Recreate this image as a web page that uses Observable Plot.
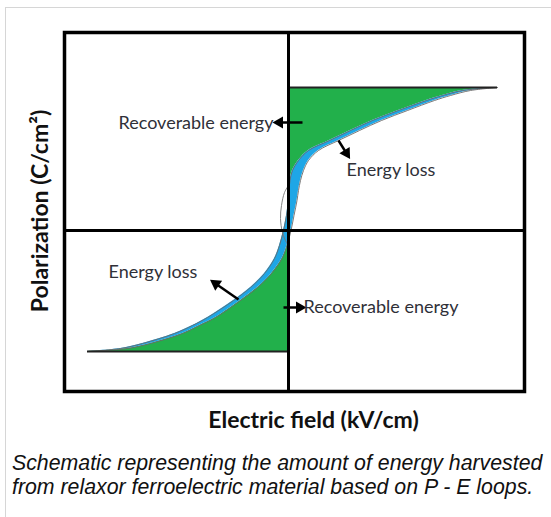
<!DOCTYPE html>
<html>
<head>
<meta charset="utf-8">
<script src="https://cdn.jsdelivr.net/npm/d3@7"></script>
<script src="https://cdn.jsdelivr.net/npm/@observablehq/plot@0.6"></script>
<style>
  html, body { margin: 0; padding: 0; background: #fff; }
  #wrap { position: relative; width: 551px; height: 517px; overflow: hidden; }
  #frameBox { position: absolute; left: 5px; top: 7px; width: 600px; height: 600px;
              border-left: 1px solid #d6d6d6; border-top: 1px solid #d6d6d6; }
  #chart { position: absolute; left: 0; top: 0; }
  #caption { position: absolute; left: 12px; top: 451px; width: 545px;
             font-family: "Liberation Sans", Arial, sans-serif; font-style: italic;
             font-size: 21.3px; line-height: 24px; color: #111; white-space: nowrap; }
</style>
</head>
<body>
<div id="wrap">
  <div id="frameBox"></div>
  <div id="chart"></div>
  <div id="caption"></div>
</div>
<script>
// Polarization values (arbitrary units), top to bottom
const polarization = [71.5, 70, 67.5, 65, 60, 55, 50, 45, 40, 35, 30, 25, 20, 15, 7.5, 0,
  -7.5, -14, -21.5, -28.5, -35, -43.5, -47.5, -51.5, -56.5, -59, -60.5];
// Left branch of the loop (discharge curve in the upper half)
const fieldLeft = [104.5, 87, 77, 69, 55, 42, 31, 20.5, 10, 5, 2, 0.75, 0.25, 0, -1, -2.5,
  -4.5, -7, -12, -19, -27.5, -40.5, -48, -57, -73, -84, -100.5];
// Right branch of the loop (charge curve in the upper half)
const fieldRight = [104.5, 91, 81, 73, 59.5, 46.5, 35.5, 25, 15, 10, 7.5, 6, 5, 4.25, 2.75, 1.25,
  -0.75, -3.25, -8.5, -15.5, -24, -36.5, -44.5, -53, -69, -80.5, -100.5];
// small minor loop around the origin
const loopField = [0, -2, -3.5, -4, -3, -1, 0.5];
const loopPol = [22.5, 19, 12.5, 6, -1, -6, -8];

const xLabel = "Electric field (kV/cm)";
const yLabel = "Polarization (C/cm²)";
const captionText = ["Schematic representing the amount of energy harvested",
  "from relaxor ferroelectric material based on P - E loops."];

// annotations: label text, anchor position (data units)
const labels = [
  {text: "Recoverable energy", x: -7.5, y: 53.5, anchor: "end"},
  {text: "Energy loss", x: 29, y: 30, anchor: "start"},
  {text: "Energy loss", x: -90, y: -21, anchor: "start"},
  {text: "Recoverable energy", x: 7.5, y: -38.5, anchor: "start"}
];
// arrows: tail (x1,y1) -> tip (x2,y2)
const arrows = [
  {x1: 7, y1: 54, x2: -6.5, y2: 54},
  {x1: 25, y1: 45, x2: 30, y2: 37},
  {x1: -25, y1: -34.5, x2: -38, y2: -25.5},
  {x1: -2.5, y1: -38.5, x2: 7.5, y2: -38.5}
];

const rows = polarization.map((p, i) => ({P: p, L: fieldLeft[i], R: fieldRight[i]}));
const loop = loopField.map((e, i) => ({E: e, P: loopPol[i]}));
const tipTop = rows[0], tipBottom = rows[rows.length - 1];
const tips = [
  {P: tipTop.P, x1: 0, x2: tipTop.L},
  {P: tipBottom.P, x1: tipBottom.L, x2: 0}
];
// arrow heads: centred a little behind the tip, rotated along the shaft
const heads = arrows.map(a => {
  const dx = a.x2 - a.x1, dy = a.y2 - a.y1, len = Math.hypot(dx, dy);
  const back = 2;
  return {x: a.x2 - dx / len * back, y: a.y2 - dy / len * back,
          angle: Math.atan2(dx, dy) * 180 / Math.PI};
});

const green = "#22b04b";
const blue = "#1ea6e6";
const ink = "#2f3038";
const font = "Lato, 'Open Sans', sans-serif";

const chart = Plot.plot({
  width: 551,
  height: 440,
  marginLeft: 64,
  marginRight: 27,
  marginTop: 32,
  marginBottom: 49,
  x: {domain: [-112, 118], axis: null},
  y: {domain: [-80.5, 99], axis: null},
  style: {fontFamily: font, background: "transparent"},
  marks: [
    Plot.areaX(rows.filter(d => d.P >= 15), {y: "P", x1: 0, x2: d => Math.max(0, d.L), fill: green, curve: "catmull-rom"}),
    Plot.areaX(rows.filter(d => d.P <= 0), {y: "P", x1: d => Math.min(0, d.R), x2: 0, fill: green, curve: "catmull-rom"}),
    Plot.areaX(rows, {y: "P", x1: "L", x2: "R", fill: blue, curve: "catmull-rom"}),
    Plot.line(rows, {x: "L", y: "P", curve: "catmull-rom", stroke: "#6a6a6a", strokeWidth: 0.9}),
    Plot.line(rows, {x: "R", y: "P", curve: "catmull-rom", stroke: "#6a6a6a", strokeWidth: 0.9}),
    Plot.line(loop, {x: "E", y: "P", curve: "catmull-rom", stroke: "#777", strokeWidth: 0.9}),
    Plot.ruleY(tips, {y: "P", x1: "x1", x2: "x2", stroke: "#222", strokeWidth: 2}),
    Plot.ruleX([0], {stroke: "#000", strokeWidth: 3}),
    Plot.ruleY([0], {stroke: "#000", strokeWidth: 3}),
    Plot.frame({stroke: "#000", strokeWidth: 3.5}),
    Plot.link(arrows, {x1: "x1", y1: "y1", x2: "x2", y2: "y2", stroke: "#000", strokeWidth: 2.5}),
    Plot.dot(heads, {x: "x", y: "y", symbol: "triangle", rotate: "angle", r: 4.5, fill: "#000", stroke: "none"}),
    Plot.text(labels.filter(d => d.anchor === "end"), {x: "x", y: "y", text: "text", textAnchor: "end", fill: ink, fontSize: 18, lineAnchor: "middle"}),
    Plot.text(labels.filter(d => d.anchor === "start"), {x: "x", y: "y", text: "text", textAnchor: "start", fill: ink, fontSize: 18, lineAnchor: "middle"}),
    Plot.text([xLabel], {frameAnchor: "bottom", dx: 19, dy: 29, textAnchor: "middle", lineAnchor: "middle", fontSize: 23, fontWeight: "bold", fill: "#111"}),
    Plot.text([yLabel], {frameAnchor: "left", dx: -24, dy: -1, rotate: -90, textAnchor: "middle", lineAnchor: "middle", fontSize: 23, fontWeight: "bold", fill: "#111"})
  ]
});
document.getElementById("chart").appendChild(chart);
document.getElementById("caption").innerHTML = captionText.join("<br>");
</script>
</body>
</html>
